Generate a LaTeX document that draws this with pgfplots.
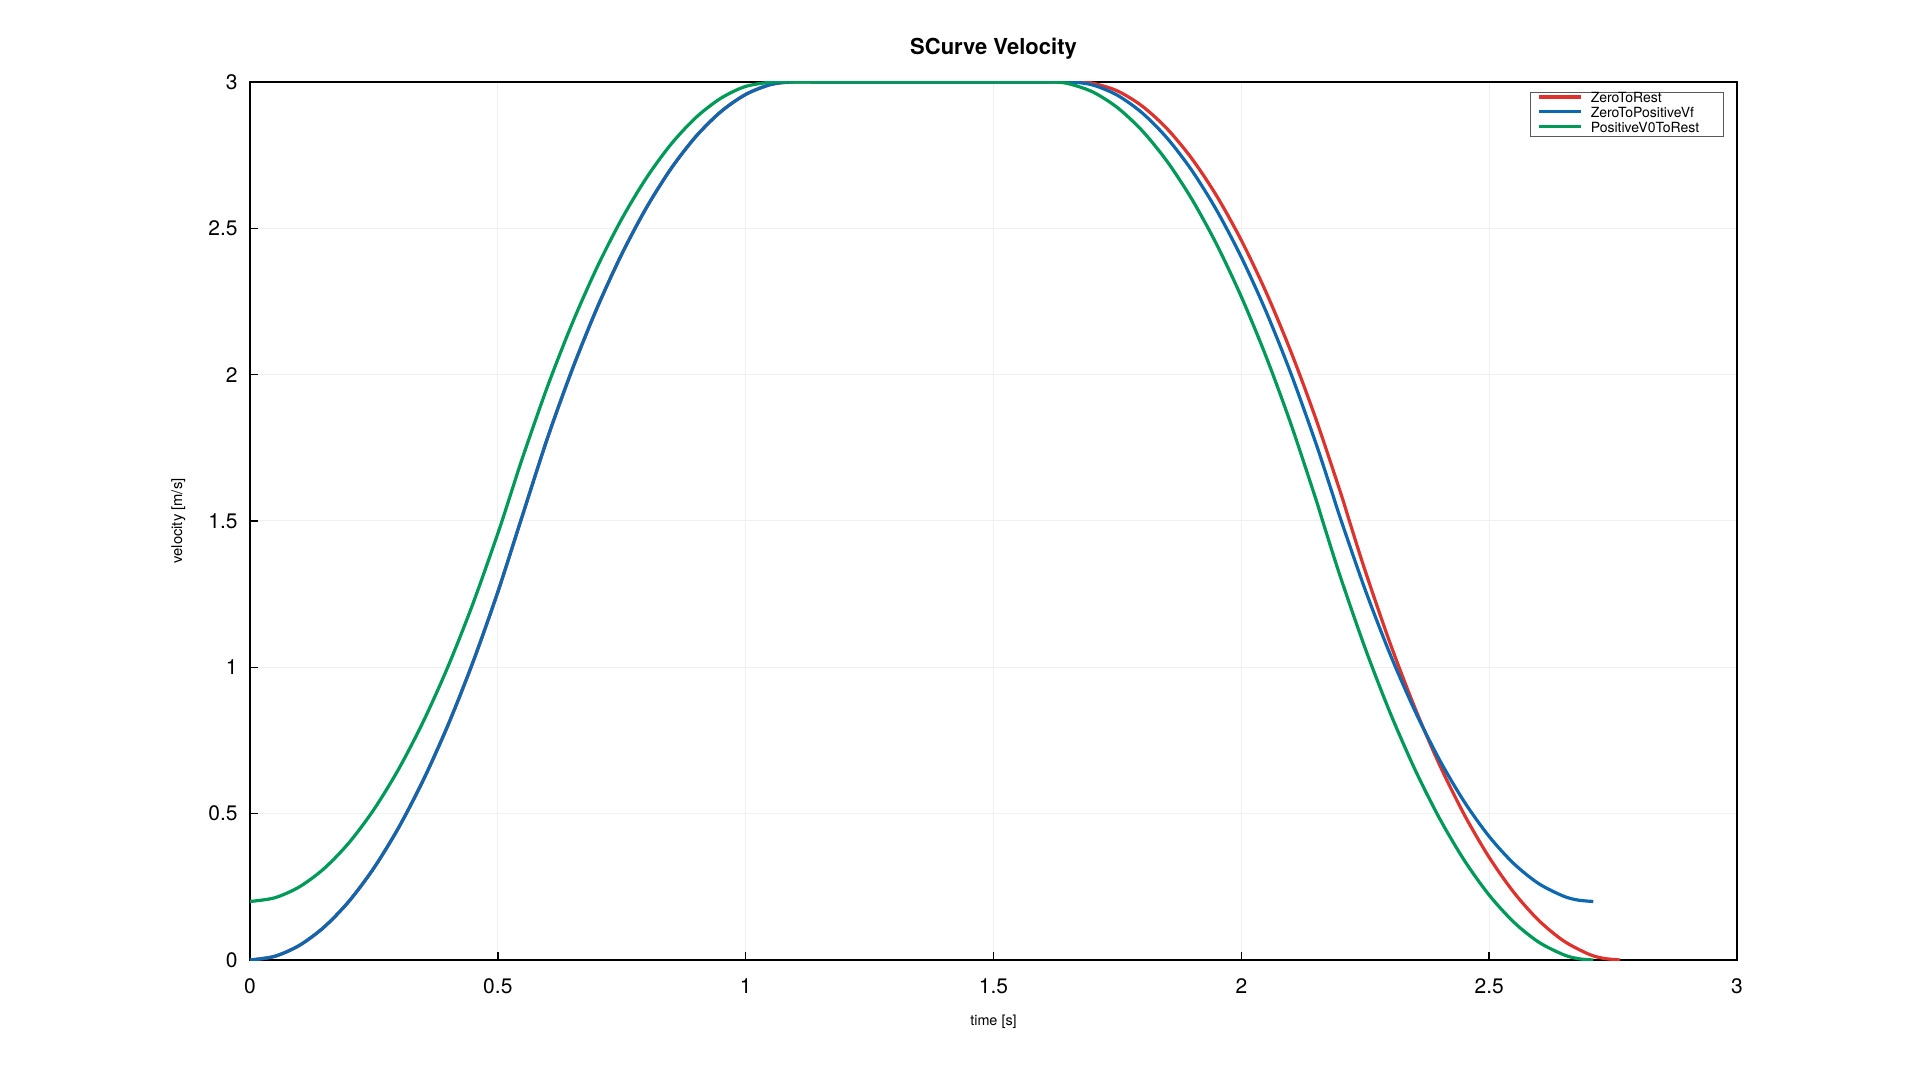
\documentclass[border=0pt]{standalone}
\usepackage{fontspec}
\setmainfont{TeX Gyre Heros}
\usepackage{pgfplots}
\pgfplotsset{compat=1.18}
\definecolor{cred}{RGB}{222,50,45}
\definecolor{cblue}{RGB}{14,104,176}
\definecolor{cgreen}{RGB}{0,154,88}
\begin{document}
\begin{tikzpicture}
\useasboundingbox (-125pt,-60pt) rectangle (835pt,480pt);
\begin{axis}[
  scale only axis,
  width=743.5pt, height=439pt,
  xmin=0, xmax=3, ymin=0, ymax=3,
  xtick={0,0.5,1,1.5,2,2.5,3},
  ytick={0,0.5,1,1.5,2,2.5,3},
  /pgf/number format/assume math mode=true,
  tick align=inside,
  xtick pos=bottom, ytick pos=left,
  major tick length=4pt,
  tick style={black, line width=0.8pt},
  axis line style={black, line width=1pt},
  grid=major,
  grid style={black!6, line width=0.5pt},
  ticklabel style={font=\fontsize{10.5}{12}\selectfont},
  xticklabel style={anchor=base, yshift=-16.5pt},
  yticklabel style={anchor=east, inner sep=0pt, xshift=-6pt},
  title={\textbf{SCurve Velocity}},
  title style={at={(axis description cs:0.5,1.0171)}, anchor=base, font=\fontsize{11}{13}\selectfont},
  xlabel={time [s]},
  xlabel style={at={(axis description cs:0.5,-0.0747)}, anchor=base, font=\fontsize{7.2}{9}\selectfont},
  ylabel={velocity [m/s]},
  ylabel style={at={(axis description cs:-0.0457,0.5)}, rotate=0, anchor=base, font=\fontsize{7.4}{9}\selectfont},
  legend image code/.code={\draw[#1] (0pt,1.3pt) -- (21pt,1.3pt);},
  legend cell align=left,
  legend style={
    at={(axis description cs:0.99146,0.98895)}, anchor=north east,
    draw=black!65, line width=0.5pt, fill=white,
    inner xsep=3.5pt, inner ysep=0pt,
    font=\fontsize{7}{7}\selectfont,
    row sep=0pt, column sep=4pt,
    nodes={inner sep=0pt, text height=5.3pt, text depth=2.05pt},
  },
  every axis plot/.append style={line width=1.6pt, line join=round, smooth, tension=0.5},
]
% ZeroToRest
\addplot[cred] coordinates {
(0,0) (0.05,0.0126) (0.1,0.0503) (0.15,0.1132) (0.2,0.2012) (0.25,0.3144)
(0.3,0.4527) (0.35,0.6162) (0.4,0.8048) (0.45,1.0186) (0.5,1.2575) (0.546,1.4995)
(0.6,1.7824) (0.65,2.0173) (0.7,2.2271) (0.75,2.4117) (0.8,2.5711) (0.85,2.7054)
(0.9,2.8146) (0.95,2.8986) (1.0,2.9574) (1.05,2.9911) (1.092,3)
(1.15,3) (1.2,3) (1.25,3) (1.3,3) (1.35,3) (1.4,3) (1.45,3) (1.5,3) (1.55,3) (1.6,3) (1.64,3)
(1.672,3) (1.7,2.9961) (1.75,2.9694) (1.8,2.9176) (1.85,2.8406) (1.9,2.7385)
(1.95,2.6113) (2.0,2.4589) (2.05,2.2813) (2.1,2.0786) (2.15,1.8507) (2.2,1.5977)
(2.218,1.5) (2.25,1.3289) (2.3,1.0829) (2.35,0.8621) (2.4,0.6665) (2.45,0.4959)
(2.5,0.3506) (2.55,0.2304) (2.6,0.1353) (2.65,0.0654) (2.7,0.0206) (2.73,0.0058)
(2.764,0)
};
\addlegendentry{\makebox[63pt][l]{ZeroToRest}}
% ZeroToPositiveVf
\addplot[cblue] coordinates {
(0,0) (0.05,0.0126) (0.1,0.0503) (0.15,0.1132) (0.2,0.2012) (0.25,0.3144)
(0.3,0.4527) (0.35,0.6162) (0.4,0.8048) (0.45,1.0186) (0.5,1.2575) (0.546,1.4995)
(0.6,1.7824) (0.65,2.0173) (0.7,2.2271) (0.75,2.4117) (0.8,2.5711) (0.85,2.7054)
(0.9,2.8146) (0.95,2.8986) (1.0,2.9574) (1.05,2.9911) (1.092,3)
(1.15,3) (1.2,3) (1.25,3) (1.3,3) (1.35,3) (1.4,3) (1.45,3) (1.5,3) (1.55,3) (1.6,3)
(1.655,3) (1.7,2.9898) (1.75,2.9546) (1.8,2.8942) (1.85,2.8087) (1.9,2.6981)
(1.95,2.5623) (2.0,2.4013) (2.05,2.2152) (2.1,2.0039) (2.15,1.7675) (2.1825,1.6)
(2.2,1.5083) (2.25,1.2643) (2.3,1.0455) (2.35,0.8519) (2.4,0.6834) (2.45,0.5400)
(2.5,0.4218) (2.55,0.3288) (2.6,0.2609) (2.65,0.2181) (2.68,0.2045) (2.71,0.2)
};
\addlegendentry{\makebox[63pt][l]{ZeroToPositiveVf}}
% PositiveV0ToRest
\addplot[cgreen] coordinates {
(0,0.2) (0.05,0.2126) (0.1,0.2503) (0.15,0.3132) (0.2,0.4012) (0.25,0.5144)
(0.3,0.6527) (0.35,0.8162) (0.4,1.0048) (0.45,1.2186) (0.5,1.4575) (0.5275,1.6)
(0.55,1.7172) (0.6,1.9587) (0.65,2.1750) (0.7,2.3661) (0.75,2.5321) (0.8,2.6729)
(0.85,2.7886) (0.9,2.8792) (0.95,2.9445) (1.0,2.9848) (1.055,3)
(1.1,3) (1.15,3) (1.2,3) (1.25,3) (1.3,3) (1.35,3) (1.4,3) (1.45,3) (1.5,3) (1.55,3) (1.59,3)
(1.618,3) (1.65,2.9948) (1.7,2.9662) (1.75,2.9124) (1.8,2.8334) (1.85,2.7293)
(1.9,2.6000) (1.95,2.4456) (2.0,2.2660) (2.05,2.0613) (2.1,1.8314) (2.15,1.5764)
(2.164,1.5) (2.2,1.3083) (2.25,1.0643) (2.3,0.8455) (2.35,0.6519) (2.4,0.4834)
(2.45,0.3400) (2.5,0.2218) (2.55,0.1288) (2.6,0.0609) (2.65,0.0181) (2.68,0.0045)
(2.71,0)
};
\addlegendentry{\makebox[63pt][l]{PositiveV0ToRest}}
\end{axis}
\end{tikzpicture}
\end{document}
